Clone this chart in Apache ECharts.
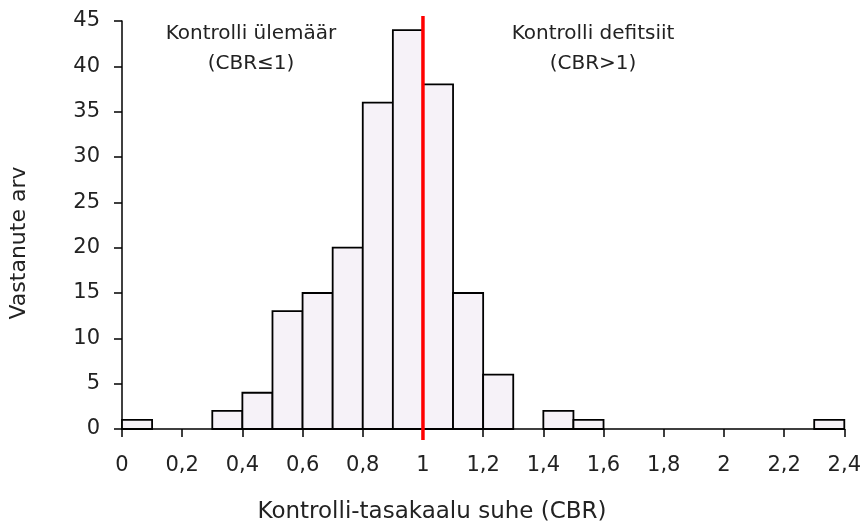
<!DOCTYPE html>
<html>
<head>
<meta charset="utf-8">
<script src="https://cdn.jsdelivr.net/npm/echarts@6/dist/echarts.min.js"></script>
<style>
  html, body { margin: 0; padding: 0; background: #fff; }
  #chart { width: 864px; height: 527px; }
</style>
</head>
<body>
<div id="chart"></div>
<script>
// histogram bins (lower / upper edge) and counts
var binLow  = [0, 0.1, 0.2, 0.3, 0.4, 0.5, 0.6, 0.7, 0.8, 0.9, 1.0, 1.1, 1.2, 1.3, 1.4, 1.5, 1.6, 1.7, 1.8, 1.9, 2.0, 2.1, 2.2, 2.3];
var binHigh = [0.1, 0.2, 0.3, 0.4, 0.5, 0.6, 0.7, 0.8, 0.9, 1.0, 1.1, 1.2, 1.3, 1.4, 1.5, 1.6, 1.7, 1.8, 1.9, 2.0, 2.1, 2.2, 2.3, 2.4];
var counts  = [1, 0, 0, 2, 4, 13, 15, 20, 36, 44, 38, 15, 6, 0, 2, 1, 0, 0, 0, 0, 0, 0, 0, 1];
// threshold CBR = 1
var threshold = [1];
var leftNote = 'Kontrolli ülemäär\n(CBR≤1)';
var rightNote = 'Kontrolli defitsiit\n(CBR>1)';

var font = 'DejaVu Sans';
var chart = echarts.init(document.getElementById('chart'));

var barData = [];
for (var i = 0; i < counts.length; i++) {
  barData.push([binLow[i], binHigh[i], counts[i]]);
}

function fmt(v) {
  return String(+(+v).toFixed(1)).replace('.', ',');
}

var option = {
  animation: false,
  backgroundColor: '#fff',
  grid: { left: 117, right: 19, top: 21, bottom: 98 },
  title: {
    text: 'Kontrolli-tasakaalu suhe (CBR)',
    left: 'center',
    top: 496,
    textStyle: { fontFamily: font, fontSize: 23, fontWeight: 'normal', color: '#222' }
  },
  xAxis: {
    type: 'value',
    min: 0,
    max: 2.4,
    interval: 0.2,
    splitLine: { show: false },
    axisLine: { lineStyle: { color: '#000', width: 1.5 } },
    axisTick: { length: 8, lineStyle: { color: '#000', width: 1.5 } },
    axisLabel: { margin: 26, fontFamily: font, fontSize: 21, color: '#222', formatter: fmt }
  },
  yAxis: {
    type: 'value',
    min: 0,
    max: 45,
    interval: 5,
    name: 'Vastanute arv',
    nameLocation: 'middle',
    nameGap: 92,
    nameTextStyle: { fontFamily: font, fontSize: 22, color: '#222', padding: [0, 36, 0, 0] },
    splitLine: { show: false },
    axisLine: { show: true, lineStyle: { color: '#000', width: 1.5 } },
    axisTick: { show: true, length: 8, lineStyle: { color: '#000', width: 1.5 } },
    axisLabel: { margin: 22, fontFamily: font, fontSize: 21, color: '#222' }
  },
  graphic: [
    {
      type: 'text', left: 251 - 90, top: 19,
      style: { text: leftNote, fontFamily: font, fontSize: 20, fill: '#222', textAlign: 'center', lineHeight: 30, width: 180 }
    },
    {
      type: 'text', left: 593 - 90, top: 19,
      style: { text: rightNote, fontFamily: font, fontSize: 20, fill: '#222', textAlign: 'center', lineHeight: 30, width: 180 }
    }
  ],
  series: [
    {
      type: 'custom',
      data: barData,
      encode: { x: [0, 1], y: 2 },
      renderItem: function (params, api) {
        var n = api.value(2);
        if (!n) return null;
        var p0 = api.coord([api.value(0), n]);
        var p1 = api.coord([api.value(1), 0]);
        return {
          type: 'rect',
          shape: { x: p0[0], y: p0[1], width: p1[0] - p0[0], height: p1[1] - p0[1] },
          style: { fill: '#f6f2f8', stroke: '#000', lineWidth: 1.8 }
        };
      }
    },
    {
      type: 'custom',
      data: threshold.map(function (v) { return [v]; }),
      encode: { x: 0 },
      z: 5,
      renderItem: function (params, api) {
        var bottom = api.coord([api.value(0), 0]);
        var top = api.coord([api.value(0), 45]);
        return {
          type: 'line',
          shape: { x1: bottom[0], y1: bottom[1] + 11, x2: top[0], y2: top[1] - 5 },
          style: { stroke: '#ff0000', lineWidth: 3.5 }
        };
      }
    }
  ]
};

chart.setOption(option);
</script>
</body>
</html>
